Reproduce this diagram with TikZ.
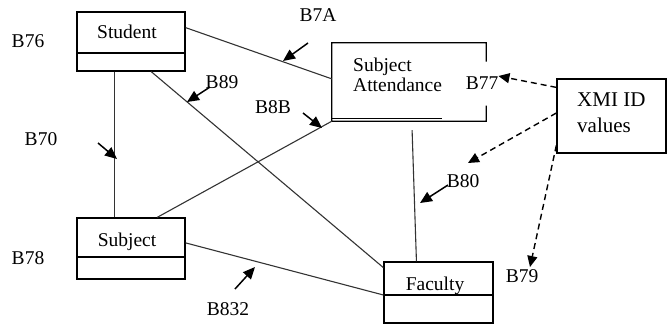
\documentclass[tikz,border=0pt]{standalone}
\usepackage{fontspec}
\setmainfont{Liberation Serif}
\usetikzlibrary{arrows.meta,calc}
\begin{document}
\begin{tikzpicture}[x=1pt,y=-1pt,
  classbox/.style={draw,line width=1.3pt,rectangle,inner sep=0pt,minimum width=108pt,minimum height=61pt},
  link/.style={line width=1.1pt,draw=black!80},
  tag/.style={font=\fontsize{19.5}{23}\selectfont,inner sep=0pt,anchor=base},
  lefttag/.style={font=\fontsize{19.5}{23}\selectfont,inner sep=0pt,anchor=base west},
  pointer/.style={line width=1.5pt,-{Triangle[length=12pt,width=10.5pt]}},
  xmiref/.style={line width=1.4pt,dash pattern=on 6pt off 4pt,-{Triangle[length=11pt,width=10pt]}}]
\useasboundingbox (0,0) rectangle (669,327);

% class boxes
\node[classbox,minimum height=59pt] (stu) at (131,41.5) {};
\draw[line width=1.3pt] ($(stu.west)+(0,11.5)$) -- ($(stu.east)+(0,11.5)$);
\node[tag] (stut) at (127,38) {Student};

\node[classbox] (sub) at (131,248.5) {};
\draw[line width=1.3pt] ($(sub.west)+(0,8.5)$) -- ($(sub.east)+(0,8.5)$);
\node[tag] (subt) at (127,246) {Subject};

\node[classbox,minimum width=109pt] (fac) at (438.5,292.5) {};
\draw[line width=1.3pt] ($(fac.west)+(0,2.5)$) -- ($(fac.east)+(0,2.5)$);
\node[tag] (fact) at (435,290) {Faculty};

% association class, right edge left open for its label
\node[inner sep=0pt,minimum width=154pt,minimum height=78pt] (sa) at (409,82) {};
\draw[line width=1.3pt] ($(sa.north east)!0.24!(sa.south east)$) -- (sa.north east)
  -- (sa.north west) -- (sa.south west) -- (sa.south east)
  -- ($(sa.south east)!0.2!(sa.north east)$);
\draw[line width=1.3pt] ($(sa.south west)+(0,-3)$) -- ($(sa.south west)+(110,-3)$);
\node[lefttag] (sat1) at (353,71) {Subject};
\node[lefttag] (sat2) at (353,91) {Attendance};

% note box
\node[draw,line width=1.3pt,inner sep=0pt,minimum width=109pt,minimum height=74pt] (xmi) at (611.5,116) {};
\node[lefttag,font=\fontsize{21}{25}\selectfont] (xmit1) at (577,106) {XMI ID};
\node[lefttag,font=\fontsize{21}{25}\selectfont] (xmit2) at (577,132) {values};

% identifier labels
\node[tag] (lb76) at (28,47) {B76};
\node[tag] (lb7a) at (318,21) {B7A};
\node[tag] (lb89) at (222,88) {B89};
\node[tag] (lb8b) at (273,113) {B8B};
\node[tag] (lb70) at (41,145) {B70};
\node[tag] (lb78) at (28,264) {B78};
\node[tag] (lb832) at (228,315) {B832};
\node[tag] (lb77) at (482,89) {B77};
\node[tag] (lb80) at (463,187) {B80};
\node[tag] (lb79) at (522,282) {B79};

% associations
\draw[link] ($(stu.south west)!0.35!(stu.south east)$) -- ($(sub.north west)!0.35!(sub.north east)$);
\draw[link] ($(stu.north east)!0.27!(stu.south east)$) -- ($(sa.north west)!0.46!(sa.south west)$);
\draw[link] ($(stu.south west)!0.685!(stu.south east)$) -- ($(fac.north west)!0.1!(fac.south west)$);
\draw[link] ($(sub.north west)!0.74!(sub.north east)$) -- (sa.south west);
\draw[link] ($(sub.north east)!0.41!(sub.south east)$) -- ($(fac.north west)!0.54!(fac.south west)$);
\draw[link] ($(sa.south west)!0.52!(sa.south east)+(0,9)$) -- ($(fac.north west)!0.3!(fac.north east)$);

% pointers to the associations
\coordinate (s7a) at (308,43);  \coordinate (t7a) at (283,61);
\coordinate (s89) at (210,87);  \coordinate (t89) at (187,102);
\coordinate (s8b) at (303,113); \coordinate (t8b) at (322,128);
\coordinate (s70) at (98,143);  \coordinate (t70) at (117,159);
\coordinate (s832) at (235,289); \coordinate (t832) at (255,267);
\coordinate (s80) at (448,185); \coordinate (t80) at (420,203);
\draw[pointer] (s7a) -- (t7a);
\draw[pointer] (s89) -- (t89);
\draw[pointer] (s8b) -- (t8b);
\draw[pointer] (s70) -- (t70);
\draw[pointer] (s832) -- (t832);
\draw[pointer] (s80) -- (t80);

% identifier references from the note
\coordinate (d80) at (468,163);
\coordinate (d79) at (530,267);
\draw[xmiref] ($(xmi.north west)!0.12!(xmi.south west)$) -- (lb77.north east);
\draw[xmiref] ($(xmi.north west)!0.46!(xmi.south west)$) -- (d80);
\draw[xmiref] ($(xmi.north west)!0.89!(xmi.south west)$) -- (d79);
\end{tikzpicture}
\end{document}
